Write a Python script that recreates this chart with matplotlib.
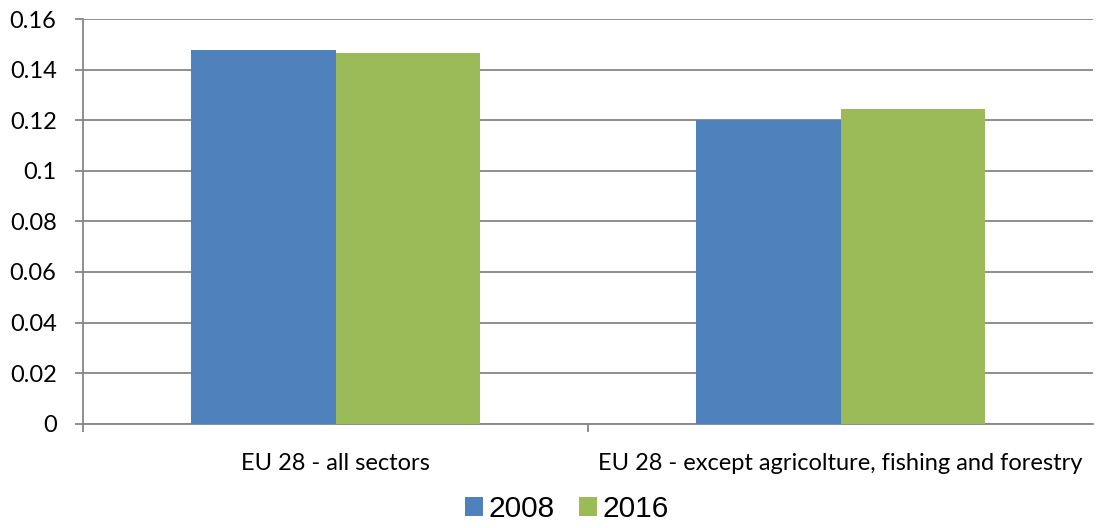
import matplotlib.pyplot as plt
import numpy as np

categories = ['EU 28 - all sectors', 'EU 28 - except agricolture, fishing and forestry']
years = ['2008', '2016']
values_2008 = [0.1477, 0.1202]
values_2016 = [0.1465, 0.1244]
yticks = [0, 0.02, 0.04, 0.06, 0.08, 0.1, 0.12, 0.14, 0.16]
ytick_labels = ['0', '0.02', '0.04', '0.06', '0.08', '0.1', '0.12', '0.14', '0.16']

def main():
    plt.rcParams['font.family'] = ['Lato', 'DejaVu Sans']
    fig = plt.figure(figsize=(10.97, 5.28), dpi=100)
    ax = fig.add_axes([83 / 1097, 104.3 / 528, 1010 / 1097, 404.7 / 528])

    grey = '#868686'
    x = np.arange(len(categories)) + 0.5
    w = 0.287
    ax.bar(x - w / 2, values_2008, w, color='#4F81BD', label=years[0], zorder=3)
    ax.bar(x + w / 2, values_2016, w, color='#9BBB59', label=years[1], zorder=3)

    ax.set_xlim(0, len(categories))
    ax.set_ylim(0, 0.16)
    ax.set_yticks(yticks)
    ax.set_yticklabels(ytick_labels, fontsize=17)
    ax.yaxis.grid(True, color=grey, linewidth=1.3, zorder=0)

    # category ticks at boundaries, labels centred
    ax.set_xticks([0, 1])
    ax.set_xticklabels([])
    ax.set_xticks(x, minor=True)
    ax.set_xticklabels(categories, minor=True, fontsize=17)
    ax.tick_params(axis='x', which='minor', length=0, pad=21)
    ax.tick_params(axis='x', which='major', length=6, color=grey, width=1.3)
    ax.tick_params(axis='y', length=6, color=grey, width=1.3, pad=13)

    for s in ['top', 'right']:
        ax.spines[s].set_visible(False)
    for s in ['left', 'bottom']:
        ax.spines[s].set_color(grey)
        ax.spines[s].set_linewidth(1.3)

    fig.legend(loc='lower center', bbox_to_anchor=(567 / 1097, -0.042), ncol=2,
               frameon=False, prop={'family': 'Liberation Sans', 'size': 21.5},
               handlelength=0.6, handleheight=0.6,
               handletextpad=0.2, columnspacing=0.8)

    fig.savefig('out.png', dpi=100)

if __name__ == '__main__':
    main()
